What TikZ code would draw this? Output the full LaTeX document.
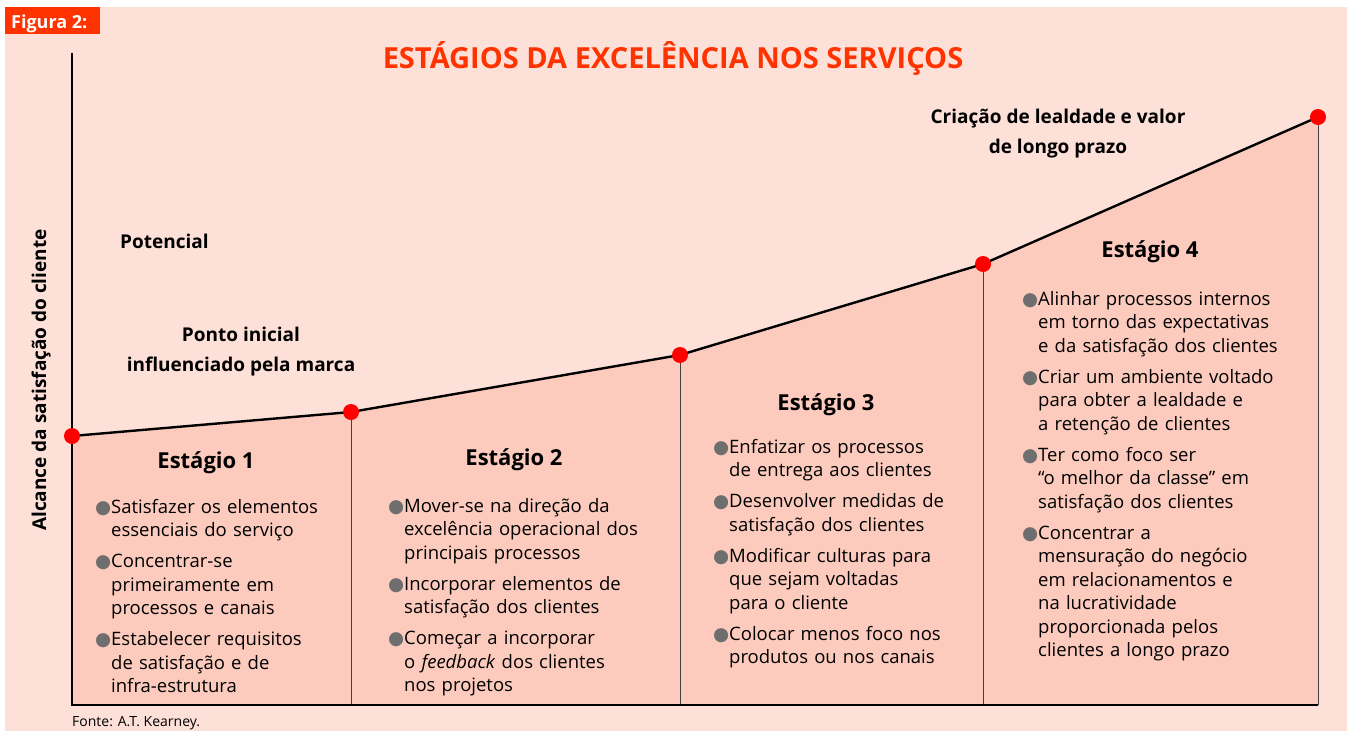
\documentclass[tikz,border=0pt]{standalone}
\usepackage{fontspec}
\setmainfont{Open Sans}
\newfontfamily\simbolo{DejaVu Sans}

\definecolor{fundo}{RGB}{253,224,216}
\definecolor{area}{RGB}{252,203,190}
\definecolor{vermelho}{RGB}{255,51,0}
\definecolor{bolinha}{RGB}{110,110,110}

% bolinha cinza com recuo das linhas seguintes
\newcommand\marcador{\noindent\hangindent=16pt\hangafter=1%
  \makebox[16pt][l]{\textcolor{bolinha}{\simbolo ●}}}
\newcommand\primeiro{\marcador}
\newcommand\topico{\par\vspace{7.5pt}\marcador}
\newcommand\nl{\newline}

\tikzset{
  lista/.style={anchor=base west, text width=290pt, align=left, inner sep=0pt,
    font=\fontsize{18.5}{23.5}\selectfont},
  estagio/.style={anchor=base, inner sep=0pt, font=\bfseries\fontsize{22}{26}\selectfont},
  rotulo/.style={inner sep=0pt, align=center, font=\bfseries\fontsize{19}{30}\selectfont},
  fino/.style={draw=black!75, line width=0.9pt},
}

\begin{document}
\begin{tikzpicture}  % ------ Estagios da excelencia ---------------
      [x=1pt,y=-1pt]
    \useasboundingbox (0,0) rectangle (1347,731);
    \fill[fundo] (5,7) rectangle (1347,731);
    \fill[vermelho] (5,7) rectangle (100,34);
    \node[inner sep=0pt, anchor=base west, text=white, font=\bfseries\fontsize{18}{20}\selectfont]
      (fig) at (11,28) {Figura 2:};

    \coordinate (P0) at (72,436);
    \coordinate (P1) at (351,412);
    \coordinate (P2) at (680,355);
    \coordinate (P3) at (983,264);
    \coordinate (P4) at (1318,117);
    \coordinate (B0) at (72,705);
    \coordinate (B1) at (351,705);
    \coordinate (B2) at (680,705);
    \coordinate (B3) at (983,705);
    \coordinate (B4) at (1318,705);
    \coordinate (T0) at (72,53);

    \fill[area] (P0) -- (P1) -- (P2) -- (P3) -- (P4) -- (B4) -- (B0) -- cycle;
    \draw[fino] (P1) -- (B1);
    \draw[fino] (P2) -- (B2);
    \draw[fino] (P3) -- (B3);
    \draw[fino] (P4) -- (B4);
    \draw[line width=1.2pt] (T0) -- (B0) -- (B4);
    \draw[line width=2.4pt, line join=round] (P0) -- (P1) -- (P2) -- (P3) -- (P4);
    \foreach \p in {P0,P1,P2,P3,P4}
      \fill[red] (\p) circle (8pt);

    \node[anchor=base, inner sep=0pt, text=vermelho, font=\bfseries\fontsize{29}{34}\selectfont]
      (titulo) at (673,68) {ESTÁGIOS DA EXCELÊNCIA NOS SERVIÇOS};
    \node[rotulo, rotate=90, anchor=base] (eixo) at (46,380) {Alcance da satisfação do cliente};
    \node[rotulo, anchor=base west] (pot) at (120,248) {Potencial};
    \node[rotulo, anchor=base] (marca) at (241,371) {Ponto inicial\\influenciado pela marca};
    \node[rotulo, anchor=base] (valor) at (1058,153) {Criação de lealdade e valor\\de longo prazo};

    \node[estagio] (e1) at (206,468) {Estágio 1};
    \node[estagio] (e2) at (514,465) {Estágio 2};
    \node[estagio] (e3) at (826,410) {Estágio 3};
    \node[estagio] (e4) at (1150,257) {Estágio 4};

    \node[lista] (l1) at (95,513) {%
      \primeiro Satisfazer os elementos\nl essenciais do serviço
      \topico Concentrar-se\nl primeiramente em\nl processos e canais
      \topico Estabelecer requisitos\nl de satisfação e de\nl infra-estrutura\par};
    \node[lista] (l2) at (388,512) {%
      \primeiro Mover-se na direção da\nl excelência operacional dos\nl principais processos
      \topico Incorporar elementos de\nl satisfação dos clientes
      \topico Começar a incorporar\nl o \textit{feedback} dos clientes\nl nos projetos\par};
    \node[lista] (l3) at (713,453) {%
      \primeiro Enfatizar os processos\nl de entrega aos clientes
      \topico Desenvolver medidas de\nl satisfação dos clientes
      \topico Modificar culturas para\nl que sejam voltadas\nl para o cliente
      \topico Colocar menos foco nos\nl produtos ou nos canais\par};
    \node[lista] (l4) at (1022,305) {%
      \primeiro Alinhar processos internos\nl em torno das expectativas\nl e da satisfação dos clientes
      \topico Criar um ambiente voltado\nl para obter a lealdade e\nl a retenção de clientes
      \topico Ter como foco ser\nl “o melhor da classe” em\nl satisfação dos clientes
      \topico Concentrar a\nl mensuração do negócio\nl em relacionamentos e\nl na lucratividade\nl proporcionada pelos\nl clientes a longo prazo\par};

\begin{footnotesize}
    \node[inner sep=0pt, anchor=base west, font=\fontsize{14}{16}\selectfont]
      (fonte) at (72,726) {Fonte: A.T. Kearney.};
\end{footnotesize}
\end{tikzpicture}
\end{document}
